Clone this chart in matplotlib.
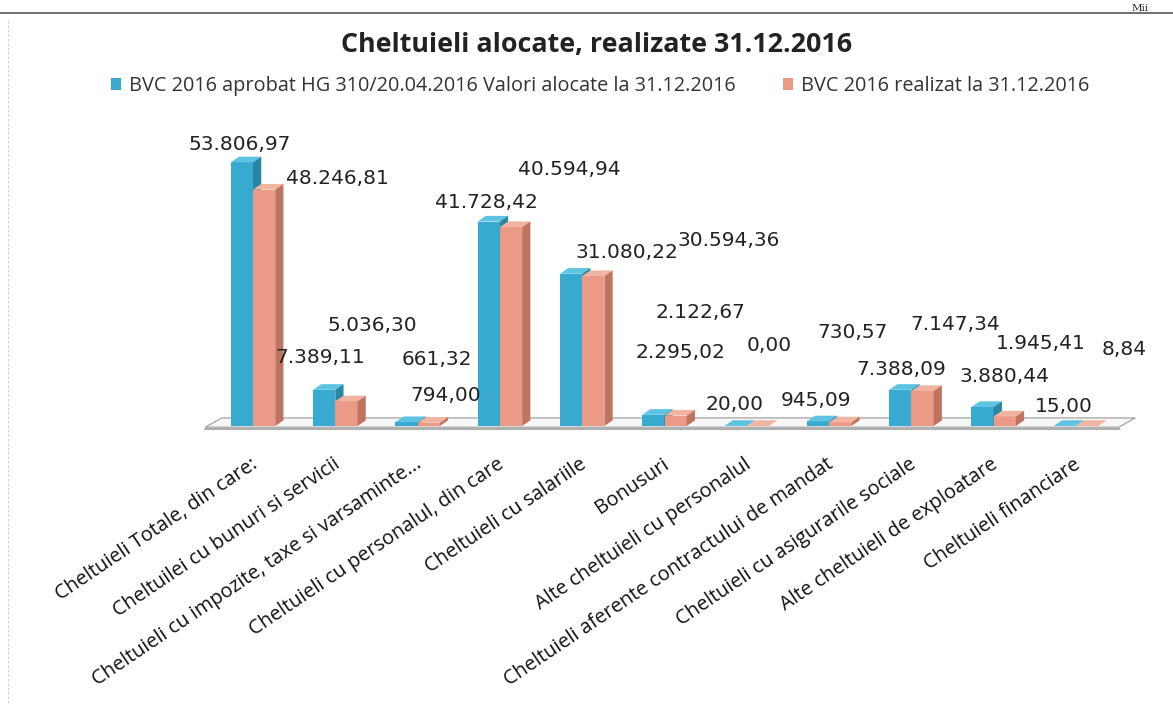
import matplotlib
matplotlib.use("Agg")
import matplotlib.pyplot as plt
from matplotlib.patches import Polygon, Rectangle, Patch
from matplotlib.lines import Line2D

# ---------------- data ----------------
categories = [
    "Cheltuieli Totale, din care:",
    "Cheltuilei cu bunuri si servicii",
    "Cheltuieli cu impozite, taxe si varsaminte...",
    "Cheltuieli cu personalul, din care",
    "Cheltuieli cu salariile",
    "Bonusuri",
    "Alte cheltuieli cu personalul",
    "Cheltuieli aferente contractului de mandat",
    "Cheltuieli cu asigurarile sociale",
    "Alte cheltuieli de exploatare",
    "Cheltuieli financiare",
]
alocat = [53806.97, 7389.11, 794.00, 41728.42, 31080.22, 2295.02, 20.00, 945.09, 7388.09, 3880.44, 15.00]
realizat = [48246.81, 5036.30, 661.32, 40594.94, 30594.36, 2122.67, 0.00, 730.57, 7147.34, 1945.41, 8.84]
series_names = ["BVC 2016 aprobat HG 310/20.04.2016 Valori alocate la 31.12.2016",
                "BVC 2016 realizat la 31.12.2016"]
title = "Cheltuieli alocate, realizate 31.12.2016"

# ---------------- layout / style ----------------
W, H = 1173, 717
blue_front, blue_top, blue_side = "#38A9CF", "#5CC3E2", "#2A84A3"
red_front, red_top, red_side = "#EA9A86", "#F2B3A0", "#BF7460"
bar_w = 0.27
depth_dx = 0.10      # category units
depth_dy = 1150      # value units

# label offsets in pixels from the bar's front-top centre (dx right, dy up)
blue_lbl_off = [(-2, 18), (-4, 32), (39, 27), (-2, 19), (56, 21), (27, 62),
                (-1, 21), (-2, 21), (1, 20), (22, 30), (-1, 19)]
red_lbl_off = [(73, 11), (26, 76), (8, 63), (58, 58), (135, 36), (25, 103),
               (11, 81), (12, 90), (33, 66), (36, 73), (37, 76)]

def fmt(v):
    s = f"{v:,.2f}"
    return s.replace(",", "X").replace(".", ",").replace("X", ".")

fig = plt.figure(figsize=(W / 100, H / 100), dpi=100)
fig.patch.set_facecolor("white")

# axes placed so that x=0 -> 253px, 82.3 px per category; y=0 -> 426px, 4.9px per 1000
ax_left_px, ax_right_px, ax_top_px, ax_bot_px = 150, 1150, 130, 440
ax = fig.add_axes([ax_left_px / W, 1 - ax_bot_px / H,
                   (ax_right_px - ax_left_px) / W, (ax_bot_px - ax_top_px) / H])
ax.set_xlim((ax_left_px - 253) / 82.3, (ax_right_px - 253) / 82.3)
ax.set_ylim((426 - ax_bot_px) / 0.0049, (426 - ax_top_px) / 0.0049)
ax.axis("off")

n = len(categories)

# floor
fx0, fx1 = -0.58, 10.52
floor = Polygon([(fx0, -250), (fx1, -250), (fx1 + 0.2, -250 + 1900), (fx0 + 0.2, -250 + 1900)],
                closed=True, facecolor="#F7F7F7", edgecolor="#A5A5A5", lw=0.9, zorder=1)
ax.add_patch(floor)
ax.plot([fx0, fx1], [-550, -550], color="#A0A0A0", lw=1.2, zorder=1)


def bar3d(x0, v, front, top, side, z):
    ax.add_patch(Rectangle((x0, 0), bar_w, v, facecolor=front, edgecolor="none", zorder=z))
    ax.add_patch(Polygon([(x0, v), (x0 + bar_w, v), (x0 + bar_w + depth_dx, v + depth_dy),
                          (x0 + depth_dx, v + depth_dy)], closed=True,
                         facecolor=top, edgecolor="none", zorder=z))
    ax.add_patch(Polygon([(x0 + bar_w, 0), (x0 + bar_w, v), (x0 + bar_w + depth_dx, v + depth_dy),
                          (x0 + bar_w + depth_dx, depth_dy)], closed=True,
                         facecolor=side, edgecolor="none", zorder=z))


for i in range(n):
    bar3d(i - bar_w, alocat[i], blue_front, blue_top, blue_side, 2 + i * 0.01)
    bar3d(i, realizat[i], red_front, red_top, red_side, 2.005 + i * 0.01)

# data labels
lbl_font = dict(fontsize=14.5, color="#222222", family="DejaVu Sans", zorder=5)
for i in range(n):
    ax.annotate(fmt(alocat[i]), xy=(i - bar_w / 2, alocat[i]), xytext=blue_lbl_off[i],
                textcoords="offset pixels", ha="center", va="center", **lbl_font)
    ax.annotate(fmt(realizat[i]), xy=(i + bar_w / 2, realizat[i]), xytext=red_lbl_off[i],
                textcoords="offset pixels", ha="center", va="center", **lbl_font)

# category labels
for i, c in enumerate(categories):
    ax.annotate(c, xy=(i, -500), xytext=(-3, -26), textcoords="offset pixels",
                ha="right", va="top", rotation=34, rotation_mode="anchor",
                fontsize=14.3, family="Open Sans", color="#111111", annotation_clip=False)

# title
fig.text(597 / W, 1 - 45 / H, title, ha="center", va="center", fontsize=19.4,
         fontweight="bold", family="Open Sans", color="#222222")

# legend
handles = [Patch(facecolor=blue_front, edgecolor="none"), Patch(facecolor=red_front, edgecolor="none")]
fig.legend(handles, series_names, loc="center", bbox_to_anchor=(600 / W, 1 - 86 / H), ncol=2,
           frameon=False, handlelength=0.5, handleheight=0.5, handletextpad=0.4,
           columnspacing=2.4, prop={"family": "Open Sans", "size": 14.3}, labelcolor="#333333")

# page decorations (scan)
fig.add_artist(Line2D([0, 1], [1 - 13 / H, 1 - 13 / H], transform=fig.transFigure,
                      color="#555555", lw=1.2))
fig.add_artist(Line2D([8 / W, 8 / W], [0.02, 1 - 20 / H], transform=fig.transFigure,
                      color="#CCCCCC", lw=0.8, ls=(0, (2, 2))))
fig.text(1140 / W, 1 - 11 / H, "Mii", ha="center", va="baseline", fontsize=7.5,
         family="DejaVu Serif", color="#222222")

fig.savefig("out.png", dpi=100, facecolor="white")
